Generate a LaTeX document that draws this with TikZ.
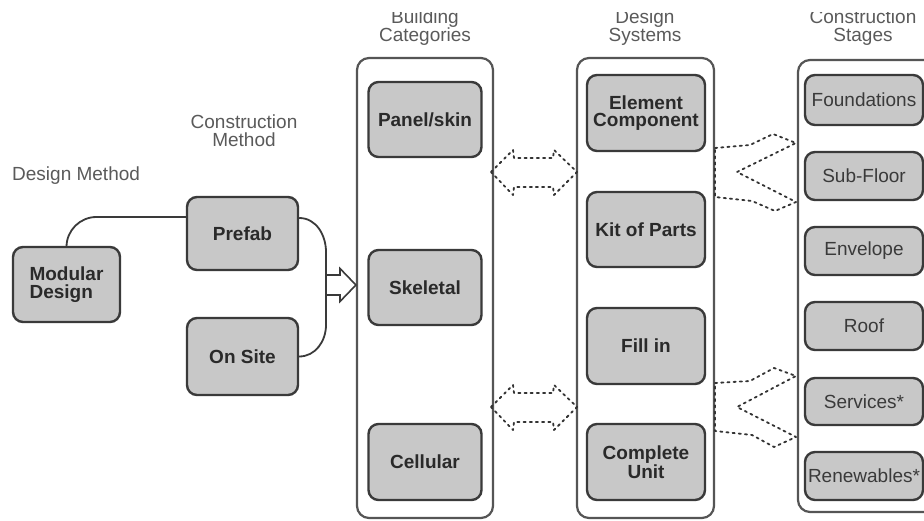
\documentclass[tikz,border=0pt]{standalone}
\usepackage{fontspec}
\setmainfont{Liberation Sans}
\definecolor{boxfill}{HTML}{C8C8C8}
\definecolor{boxline}{HTML}{3A3A3A}
\definecolor{contline}{HTML}{555555}
\definecolor{headtxt}{HTML}{5A5A5A}
\definecolor{boldtxt}{HTML}{2A2A2A}
\definecolor{dotline}{HTML}{333333}
\tikzset{
  container/.style={draw=contline, line width=2.2pt, rounded corners=12pt, fill=white, inner sep=0pt},
  gbox/.style={draw=boxline, line width=2.4pt, rounded corners=10pt, fill=boxfill, inner sep=0pt,
     align=center, text=boldtxt, font=\fontsize{19}{17.5}\selectfont\bfseries},
  sbox/.style={gbox, font=\fontsize{19}{18}\selectfont, text=boxline},
  head/.style={text=headtxt, align=center, font=\fontsize{19}{18.5}\selectfont, inner sep=0pt},
  conn/.style={draw=boxline, line width=1.8pt},
  dotted arrow/.style={draw=dotline, line width=1.8pt, dash pattern=on 2.2pt off 4pt, line cap=round, line join=round},
}
\begin{document}
\begin{tikzpicture}[x=1pt,y=-1pt]
\useasboundingbox (0,0) rectangle (924,521);
\fill[white] (0,0) rectangle (924,521);

% headers (top strip cropped as in the reference)
\begin{scope}
\clip (0,12.5) rectangle (924,60);
\node[head, anchor=base] (hbc) at (425,42) {Building\\Categories};
\node[head, anchor=base] (hds) at (645,42) {Design\\Systems};
\node[head, anchor=base] (hcs) at (863,42) {Construction\\Stages};
\end{scope}
\node[head, anchor=base] (hcm) at (244,147) {Construction\\Method};
\node[head, anchor=base west] (hdm) at (12,181) {Design Method};

% containers
\node[container, minimum width=136pt, minimum height=460pt] (bc) at (425,288) {};
\node[container, minimum width=137pt, minimum height=460pt] (ds) at (645.5,288) {};
\node[container, minimum width=140pt, minimum height=452pt] (cs) at (868,286) {};

% left boxes
\node[gbox, align=left, minimum width=107pt, minimum height=75pt] (md) at (66.5,284.5) {Modular\\Design};
\node[gbox, minimum width=111pt, minimum height=73pt] (pf) at (242.5,233.5) {Prefab};
\node[gbox, minimum width=111pt, minimum height=77pt] (os) at (242.5,356.5) {On Site};

% building categories
\node[gbox, minimum width=113pt, minimum height=75pt] (ps) at (425,119.5) {Panel/skin};
\node[gbox, minimum width=113pt, minimum height=75pt] (sk) at (425,287.5) {Skeletal};
\node[gbox, minimum width=113pt, minimum height=76pt] (ce) at (425,462) {Cellular};

% design systems
\node[gbox, minimum width=118pt, minimum height=76pt] (ec) at (646,113) {Element\\Component};
\node[gbox, minimum width=118pt, minimum height=75pt] (kp) at (646,229.5) {Kit of Parts};
\node[gbox, minimum width=118pt, minimum height=76pt] (fi) at (646,346) {Fill in};
\node[gbox, minimum width=118pt, minimum height=76pt] (cu) at (646,462) {Complete\\Unit};

% construction stages
\node[sbox, minimum width=118pt, minimum height=50pt] (fo) at (864,100) {Foundations};
\node[sbox, minimum width=118pt, minimum height=48pt] (sf) at (864,176) {Sub-Floor};
\node[sbox, minimum width=118pt, minimum height=48pt] (en) at (864,251) {Envelope};
\node[sbox, minimum width=118pt, minimum height=48pt] (ro) at (864,326) {Roof};
\node[sbox, minimum width=118pt, minimum height=47pt] (se) at (864,401.5) {Services*};
\node[sbox, minimum width=118pt, minimum height=48pt] (rn) at (864,476) {Renewables*};

% connectors on the left
\draw[conn, rounded corners=30pt] (md.north) |- ([yshift=16.5pt]pf.west);
\coordinate (b1) at (326,252);
\coordinate (b2) at (326,325);
\draw[conn] ([yshift=15.5pt]pf.east) to[out=0,in=90] (b1) -- (b2) to[out=-90,in=0] (os.east);
\coordinate (arrtip) at (bc.west |- 0,285);
\draw[draw=boxline, line width=1.6pt, fill=white, line join=miter]
  (327,275) -- (340,275) -- (340,268.5) -- (arrtip) -- (340,301.5) -- (340,295) -- (327,295);

% dotted double arrows between categories and systems
\draw[dotted arrow] (491,172) -- (513,150) -- (514,158) -- (553,158) -- (554,150) -- (577,172)
  -- (554,195) -- (553,187) -- (514,187) -- (513,195) -- cycle;
\draw[dotted arrow] (491,407) -- (513,385) -- (514,393) -- (553,393) -- (554,385) -- (577,407)
  -- (554,430) -- (553,422) -- (514,422) -- (513,430) -- cycle;

% dotted fans between systems and stages
\draw[dotted arrow] (715,148) -- (750,145) -- (773,134) -- (796,143) -- (737,172) -- (796,202)
  -- (775,211) -- (752,201) -- (715,197) -- cycle;
\draw[dotted arrow] (715,383) -- (750,381) -- (774,368) -- (796,376) -- (737,407) -- (796,437)
  -- (774,447) -- (752,435) -- (715,431) -- cycle;
\end{tikzpicture}
\end{document}
